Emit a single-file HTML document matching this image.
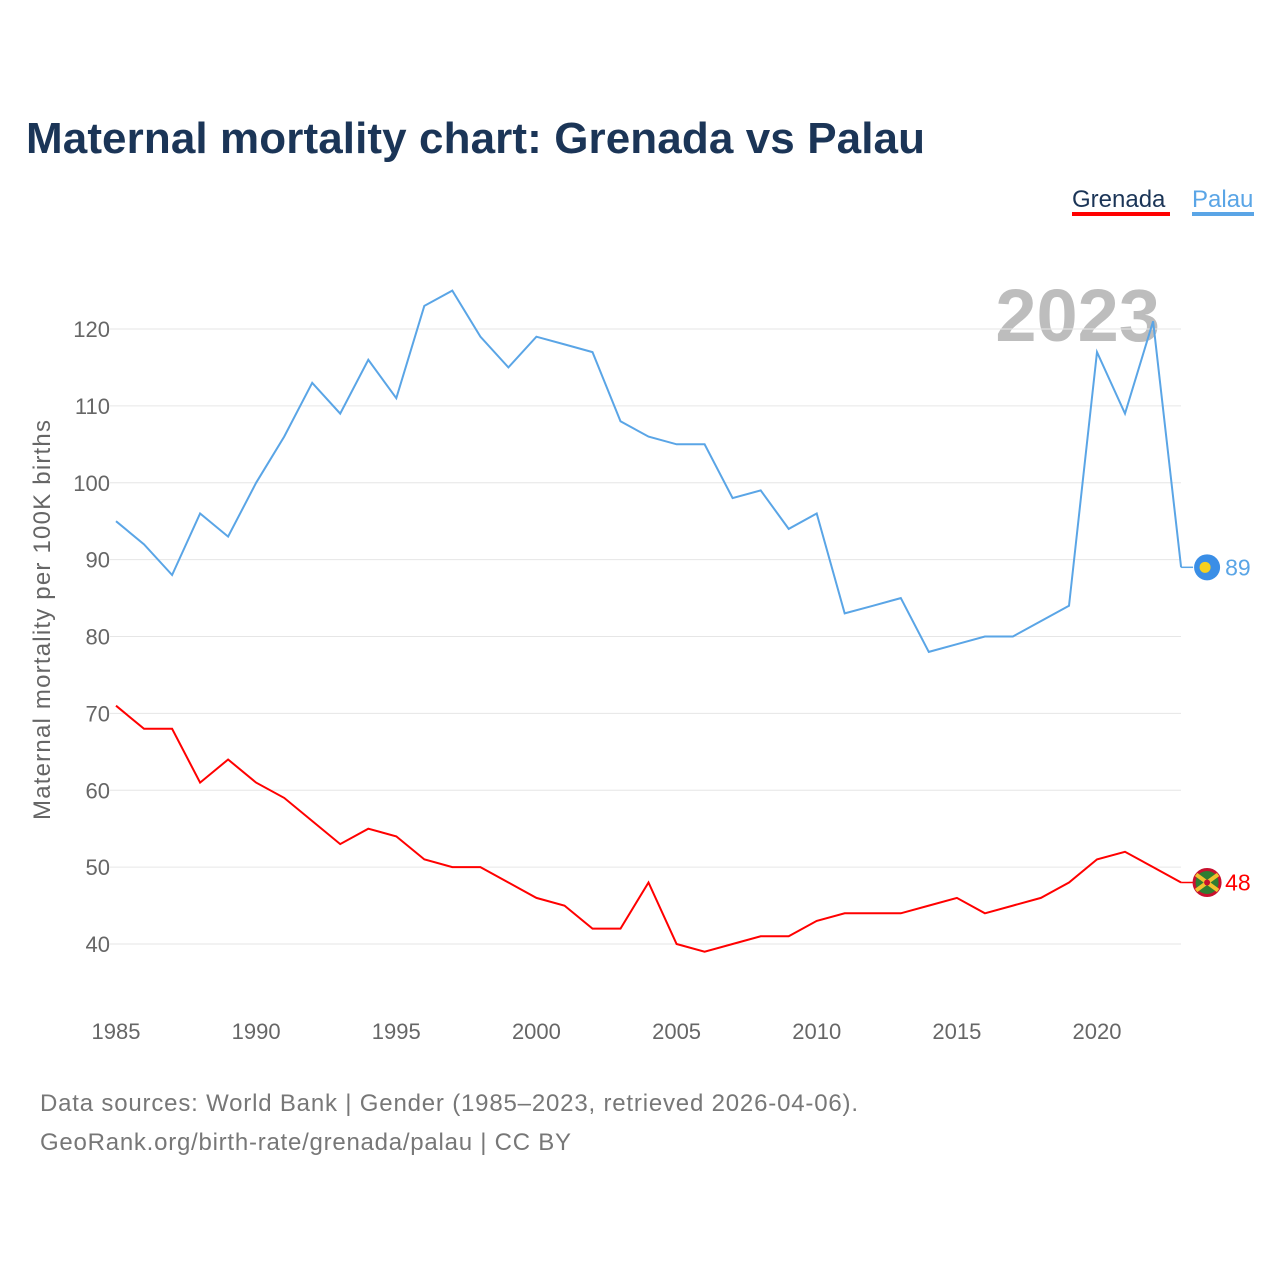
<!DOCTYPE html>
<html><head><meta charset="utf-8"><style>
body{margin:0;background:#fff;font-family:"Liberation Sans",sans-serif;}
</style></head><body>
<svg width="1280" height="1280" xmlns="http://www.w3.org/2000/svg" style="display:block">
<text x="26" y="153" font-size="44" font-weight="bold" fill="#1b3557" textLength="899">Maternal mortality chart: Grenada vs Palau</text>
<g>
<text x="1072" y="207" font-size="24" fill="#1b3557">Grenada</text>
<rect x="1072" y="212" width="98" height="4" fill="#ff0000"/>
<text x="1192" y="207" font-size="24" fill="#5aa5e6">Palau</text>
<rect x="1192" y="212" width="62" height="4" fill="#5aa5e6"/>
</g>
<text x="1160" y="341" font-size="74" font-weight="bold" fill="#bdbdbd" text-anchor="end">2023</text>
<g id="grid"></g>
<g id="yt"></g>
<g id="xt"></g>
<text transform="translate(50,620) rotate(-90)" font-size="24" fill="#666" text-anchor="middle" textLength="400">Maternal mortality per 100K births</text>
<g id="lines"></g>
<text x="40" y="1111" font-size="24" fill="#777" textLength="818">Data sources: World Bank | Gender (1985–2023, retrieved 2026-04-06).</text>
<text x="40" y="1150" font-size="24" fill="#777" textLength="531">GeoRank.org/birth-rate/grenada/palau | CC BY</text>
</svg>
<script>
const years=[];for(let y=1985;y<=2023;y++)years.push(y);
const palau=[95,92,88,96,93,100,106,113,109,116,111,123,125,119,115,119,118,117,108,106,105,105,98,99,94,96,83,84,85,78,79,80,80,82,84,117,109,121,89];
const grenada=[71,68,68,61,64,61,59,56,53,55,54,51,50,50,48,46,45,42,42,48,40,39,40,41,41,43,44,44,44,45,46,44,45,46,48,51,52,50,48];
const yTicks=[40,50,60,70,80,90,100,110,120];
const xTicks=[1985,1990,1995,2000,2005,2010,2015,2020];
const NS="http://www.w3.org/2000/svg";
const X=v=>116+(v-1985)*(1097-116)/35;
const Y=v=>944-(v-40)*(944-329)/80;
function mk(tag,attrs,parent,txt){const e=document.createElementNS(NS,tag);for(const k in attrs)e.setAttribute(k,attrs[k]);if(txt!==undefined)e.textContent=txt;parent.appendChild(e);return e;}
const grid=document.getElementById('grid'),yt=document.getElementById('yt'),xt=document.getElementById('xt'),lines=document.getElementById('lines');
yTicks.forEach(t=>{
 const l=mk('line',{x1:110,x2:1181,y1:Y(t),y2:Y(t),stroke:'#e6e6e6','stroke-width':1},grid);
 
 
 const tx=mk('text',{x:110,y:Y(t)+8,'font-size':22,fill:'#666','text-anchor':'end'},yt,t);
 
 
});
xTicks.forEach(t=>{
 const tx=mk('text',{x:X(t),y:1039,'font-size':22,fill:'#666','text-anchor':'middle'},xt,t);
 
 
});
function series(vals,color,name){
 const d=vals.map((v,i)=>(i?'L':'M')+X(years[i]).toFixed(1)+','+Y(v).toFixed(1)).join(' ');
 const p=mk('path',{d:d,fill:'none',stroke:color,'stroke-width':2},lines);
 
 
 const last=vals[vals.length-1],ly=Y(last),lx=X(years[years.length-1]);
 mk('line',{x1:lx,x2:lx+12,y1:ly,y2:ly,stroke:color,'stroke-width':1.5},lines);
 const c=mk('circle',{cx:lx+26,cy:ly,r:13,fill:name==='palau'?'#3a8ee6':'#2f7d32'},lines);
 
 
 if(name==='palau'){mk('circle',{cx:lx+24,cy:ly,r:5.5,fill:'#f7d11e'},lines);}
 else{mk('circle',{cx:lx+26,cy:ly,r:13,fill:'none',stroke:'#c8102e','stroke-width':3},lines);mk('path',{d:`M${lx+15},${ly-8} L${lx+37},${ly+8} M${lx+15},${ly+8} L${lx+37},${ly-8}`,stroke:'#f2c12e','stroke-width':4},lines);mk('circle',{cx:lx+26,cy:ly,r:3,fill:'#c8102e'},lines);}
 const t=mk('text',{x:lx+44,y:ly+8,'font-size':23,fill:color},lines,last);
 
 
}
series(palau,'#5aa5e6','palau');
series(grenada,'#ff0000','grenada');
</script>
</body></html>
